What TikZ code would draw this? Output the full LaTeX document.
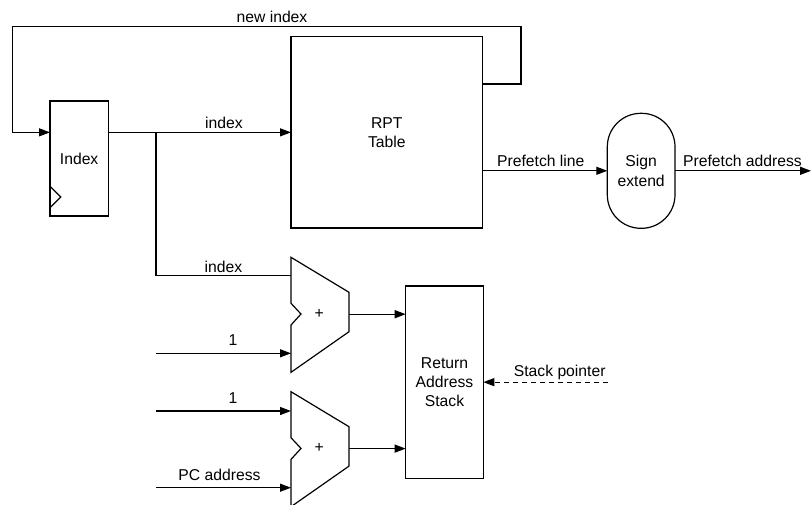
\documentclass[tikz,border=0pt]{standalone}
\usepackage{fontspec}
\setmainfont{Liberation Sans}
\usetikzlibrary{arrows.meta,calc}
\begin{document}
\begin{tikzpicture}[x=1pt,y=-1pt,
  every node/.style={font=\fontsize{15.7}{19.2}\selectfont, inner sep=0pt, outer sep=0pt},
  wire/.style={line width=1.2pt},
  arr/.style={wire, -{Triangle[length=11pt,width=8pt]}},
  box/.style={draw, line width=1.2pt, rectangle, align=center, anchor=north west},
  lbl/.style={anchor=center}]
\useasboundingbox (0,0) rectangle (811,504);

% blocks
\node[box, minimum width=58.3pt, minimum height=115pt] (idx) at (50,101) {Index};
\node[box, minimum width=191.7pt, minimum height=191.3pt] (rpt) at (291,36.7) {RPT\\Table};
\node[box, rounded corners=33.5pt, minimum width=67.7pt, minimum height=115pt] (se) at (607.3,113.3) {Sign\\extend};
\node[box, minimum width=77.6pt, minimum height=192.3pt] (ras) at (405.7,286) {Return\\Address\\Stack};

% clock input of the index register
\draw[wire] (50.7,187) -- (60.7,197) -- (50.7,207);

% adders
\coordinate (a1) at (291,257.3);
\coordinate (a2) at (291,391.7);
\foreach \a in {a1,a2}{
  \draw[wire, line join=miter] (\a) -- ++(58,35) -- ++(0,39.4) -- ++(-58,40.6)
    -- ++(0,-47.3) -- ++(10,-11) -- ++(-10,-10.7) -- cycle;
}
\node (p1) at ($(a1)+(28.3,56.7)$) {+};
\node (p2) at ($(a2)+(28.3,56.7)$) {+};
\coordinate (a1out) at ($(a1)+(58,56.9)$);
\coordinate (a2out) at ($(a2)+(58,56.9)$);
\coordinate (a1ina) at (291,275.7);
\coordinate (a1inb) at (291,353.3);
\coordinate (a2ina) at (291,411);
\coordinate (a2inb) at (291,487.7);

% free ends and corners
\coordinate (br) at (156,0 |- rpt.west);
\coordinate (fbr) at (521,84);
\coordinate (fbtop) at (521,26.7);
\coordinate (fbl) at (12.3,26.7);
\coordinate (out) at (811,0 |- se.east);
\coordinate (one1) at (156,0 |- a1inb);
\coordinate (one2) at (156,0 |- a2ina);
\coordinate (pc) at (156,0 |- a2inb);
\coordinate (sp) at (608,0 |- ras.east);

% connectors
\draw[arr] (rpt.east |- fbr) -- (fbr) -- (fbtop) -- (fbl) |- (idx.west |- rpt.west);
\draw[arr] (idx.east |- rpt.west) -- (rpt.west);
\draw[wire] (br) |- (a1ina);
\draw[arr] (rpt.east |- se.west) -- (se.west);
\draw[arr] (se.east) -- (out);
\draw[arr] (one1) -- (a1inb);
\draw[arr] (one2) -- (a2ina);
\draw[arr] (pc) -- (a2inb);
\draw[arr] (a1out) -- (a1out -| ras.west);
\draw[arr] (a2out) -- (a2out -| ras.west);
\draw[arr, dash pattern=on 5pt off 4pt] (sp) -- (ras.east);

% labels
\node[lbl] (lnew) at (272,17) {new index};
\node[lbl] (lidx) at (224,123) {index};
\node[lbl] (lidx2) at (223.5,266.7) {index};
\node[lbl] (lone1) at (233,340) {1};
\node[lbl] (lone2) at (233,398) {1};
\node[lbl] (lpc) at (219.5,475) {PC address};
\node[lbl] (lpl) at (540.8,160.7) {Prefetch line};
\node[lbl] (lpa) at (742.5,160.7) {Prefetch address};
\node[lbl] (lsp) at (559.7,372.7) {Stack pointer};
\end{tikzpicture}
\end{document}
